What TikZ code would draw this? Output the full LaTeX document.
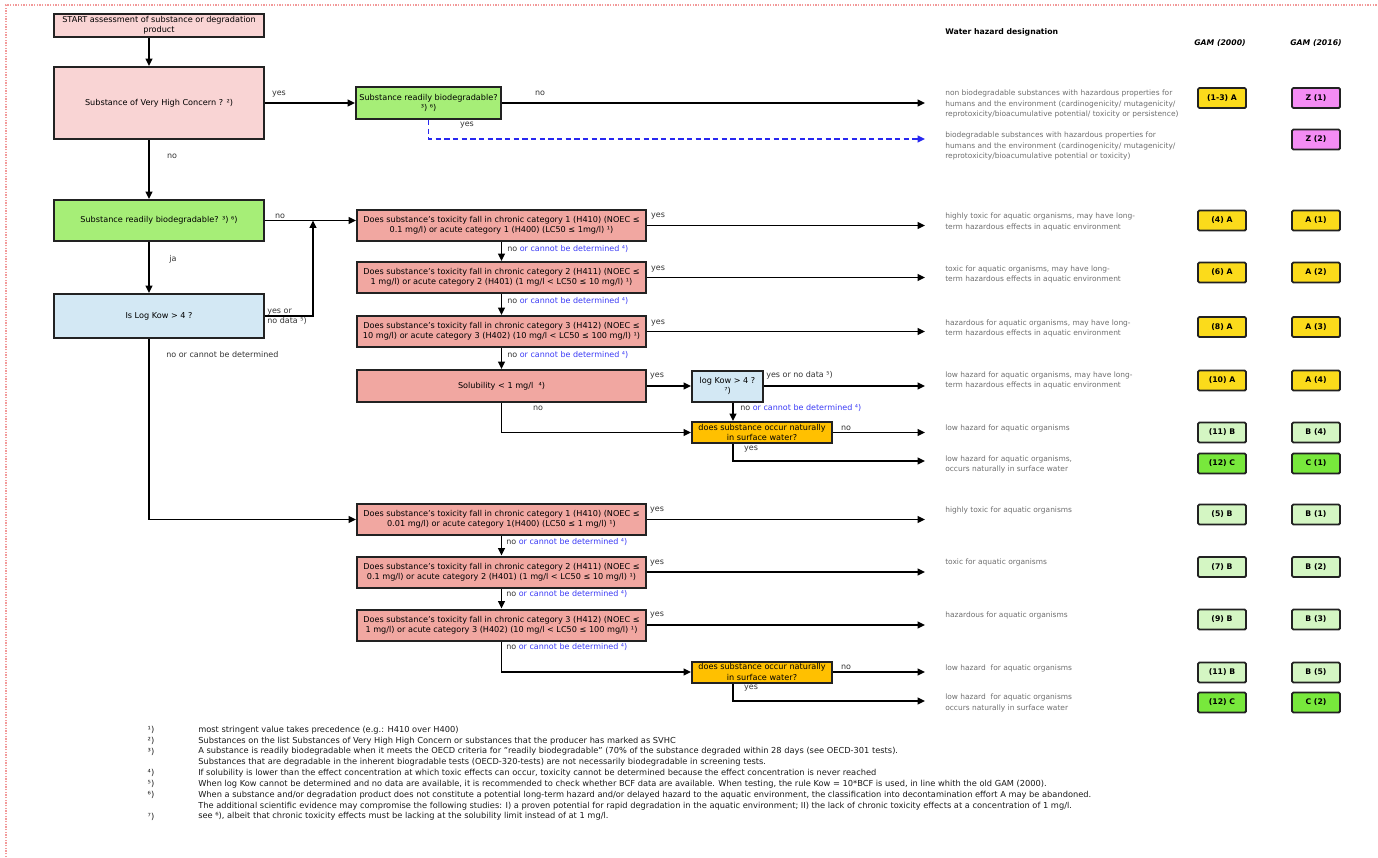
\documentclass[tikz,border=0pt]{standalone}
\usepackage{fontspec}
\setmainfont{DejaVu Sans}
\usetikzlibrary{arrows.meta}
\definecolor{pinkpale}{HTML}{F9D4D4}
\definecolor{greenq}{HTML}{A6EE77}
\definecolor{bluepale}{HTML}{D3E8F4}
\definecolor{salmon}{HTML}{F1A7A1}
\definecolor{orangeq}{HTML}{FFC000}
\definecolor{boxline}{HTML}{222222}
\definecolor{ybadge}{HTML}{FBDB1B}
\definecolor{pbadge}{HTML}{F48CF4}
\definecolor{lgbadge}{HTML}{D4F6C3}
\definecolor{ggbadge}{HTML}{78E83C}
\definecolor{bluetxt}{HTML}{3A3AF5}
\definecolor{descc}{HTML}{6E6E6E}
\definecolor{labelc}{HTML}{333333}
\definecolor{borderred}{HTML}{F29A9A}
\tikzset{
  box/.style={draw=boxline, line width=1.5pt, inner sep=0pt, align=center, font=\fontsize{6.1}{7.6}\selectfont, text=black},
  sz/.style 2 args={minimum width=#1*0.75pt, minimum height=#2*0.75pt},
  arr/.style={-{Triangle[length=5.5pt,width=5pt]}, line width=1.1pt, draw=black},
  lbl/.style={font=\fontsize{6}{7.5}\selectfont, text=labelc, inner sep=0pt},
  lbll/.style={lbl, anchor=west, align=left},
  desc/.style={anchor=west, align=left, font=\fontsize{5.6}{7.8}\selectfont, text=descc, inner sep=0pt},
  badge/.style={draw=boxline, line width=1.4pt, rounded corners=1pt, minimum width=36pt, minimum height=15pt, inner sep=0pt, font=\bfseries\fontsize{5.8}{6}\selectfont},
  fnote/.style={anchor=west, inner sep=0pt, font=\fontsize{6.2}{7}\selectfont, text=black!90},
  fmark/.style={inner sep=0pt, font=\fontsize{6.2}{7}\selectfont, text=black!90},
  hdr/.style={inner sep=0pt, font=\bfseries\fontsize{5.8}{7}\selectfont}
}
\begin{document}
\begin{tikzpicture}[x=0.75pt,y=-0.75pt]
\useasboundingbox (0,0) rectangle (1378,857);
\draw[borderred, line width=1pt, densely dotted] (6,857) -- (6,5) -- (1378,5);

% helper coordinates
\coordinate (spine) at (149,0);
\coordinate (spine2) at (733,0);
\coordinate (rcol) at (925,0);
\coordinate (j1) at (313,220.5);

% left column
\node[box, fill=pinkpale, sz={210}{23}] (start) at (159,25.5) {START assessment of substance or degradation\\product};
\node[box, fill=pinkpale, sz={210}{72}] (svhc) at (159,103) {Substance of Very High Concern ? ²)};
\node[box, fill=greenq, sz={145}{32}] (rb1) at (428.5,103) {Substance readily biodegradable?\\³) ⁶)};
\node[box, fill=greenq, sz={210}{41}] (rb2) at (159,220.5) {Substance readily biodegradable? ³) ⁶)};
\node[box, fill=bluepale, sz={210}{44}] (logkow) at (159,316) {Is Log Kow > 4 ?};

% toxicity boxes
\node[box, fill=salmon, sz={289}{31}] (tox1) at (501.5,225.5) {Does substance’s toxicity fall in chronic category 1 (H410) (NOEC ≤\\0.1 mg/l) or acute category 1 (H400) (LC50 ≤ 1mg/l) ¹)};
\node[box, fill=salmon, sz={289}{31}] (tox2) at (501.5,277.5) {Does substance’s toxicity fall in chronic category 2 (H411) (NOEC ≤\\1 mg/l) or acute category 2 (H401) (1 mg/l < LC50 ≤ 10 mg/l) ¹)};
\node[box, fill=salmon, sz={289}{31}] (tox3) at (501.5,331.5) {Does substance’s toxicity fall in chronic category 3 (H412) (NOEC ≤\\10 mg/l) or acute category 3 (H402) (10 mg/l < LC50 ≤ 100 mg/l) ¹)};
\node[box, fill=salmon, sz={289}{32}] (sol) at (501.5,386) {Solubility < 1 mg/l \ ⁴)};
\node[box, fill=bluepale, sz={71}{31}] (logkow2) at (727.5,386) {log Kow > 4 ?\\⁷)};
\node[box, fill=orangeq, sz={140}{21}] (nat1) at (762,432.5) {does substance occur naturally\\in surface water?};
\node[box, fill=salmon, sz={289}{31}] (tox4) at (501.5,519.5) {Does substance’s toxicity fall in chronic category 1 (H410) (NOEC ≤\\0.01 mg/l) or acute category 1(H400) (LC50 ≤ 1 mg/l) ¹)};
\node[box, fill=salmon, sz={289}{31}] (tox5) at (501.5,572) {Does substance’s toxicity fall in chronic category 2 (H411) (NOEC ≤\\0.1 mg/l) or acute category 2 (H401) (1 mg/l < LC50 ≤ 10 mg/l) ¹)};
\node[box, fill=salmon, sz={289}{31}] (tox6) at (501.5,625) {Does substance’s toxicity fall in chronic category 3 (H412) (NOEC ≤\\1 mg/l) or acute category 3 (H402) (10 mg/l < LC50 ≤ 100 mg/l) ¹)};
\node[box, fill=orangeq, sz={140}{21}] (nat2) at (762,672) {does substance occur naturally\\in surface water?};

\coordinate (e2) at (925,139);
\coordinate (e8) at (925,461);
\coordinate (e13) at (925,701);

% connectors
\draw[arr] (start.south -| spine) -- (svhc.north -| spine);
\draw[arr] (svhc.east) -- (rb1.west);
\draw[arr] (rb1.east) -- (rb1.east -| rcol);
\draw[arr, draw={rgb,255:red,40;green,40;blue,240}, dash pattern=on 4pt off 2.5pt] (rb1.south) |- (e2);
\draw[arr] (svhc.south -| spine) -- (rb2.north -| spine);
\draw[arr] (rb2.east) -- (rb2.east -| tox1.west);
\draw[arr] (rb2.south -| spine) -- (logkow.north -| spine);
\draw[arr] (logkow.east) -| (j1);
\draw[arr] (tox1.east) -- (tox1.east -| rcol);
\draw[arr] (tox2.east) -- (tox2.east -| rcol);
\draw[arr] (tox3.east) -- (tox3.east -| rcol);
\draw[arr] (tox1.south) -- (tox2.north);
\draw[arr] (tox2.south) -- (tox3.north);
\draw[arr] (tox3.south) -- (sol.north);
\draw[arr] (sol.east) -- (logkow2.west);
\draw[arr] (logkow2.east) -- (logkow2.east -| rcol);
\draw[arr] (logkow2.south -| spine2) -- (nat1.north -| spine2);
\draw[arr] (sol.south) |- (nat1.west);
\draw[arr] (nat1.east) -- (nat1.east -| rcol);
\draw[arr] (nat1.south -| spine2) |- (e8);
\draw[arr] (logkow.south -| spine) |- (tox4.west);
\draw[arr] (tox4.east) -- (tox4.east -| rcol);
\draw[arr] (tox5.east) -- (tox5.east -| rcol);
\draw[arr] (tox6.east) -- (tox6.east -| rcol);
\draw[arr] (tox4.south) -- (tox5.north);
\draw[arr] (tox5.south) -- (tox6.north);
\draw[arr] (tox6.south) |- (nat2.west);
\draw[arr] (nat2.east) -- (nat2.east -| rcol);
\draw[arr] (nat2.south -| spine2) |- (e13);

% connector labels
\node[lbl] (la1) at (279,94) {yes};
\node[lbl] (la2) at (172,156) {no};
\node[lbl] (la3) at (540,93) {no};
\node[lbl] (la4) at (467,125) {yes};
\node[lbl] (la5) at (280,216) {no};
\node[lbl] (la6) at (173,259) {ja};
\node[lbll] (la7) at (267,317) {yes or\\no data ⁵)};
\node[lbll] (la8) at (166,355) {no or cannot be determined};
\node[lbl] (ly1) at (658,216) {yes};
\node[lbl] (ly2) at (658,269) {yes};
\node[lbl] (ly3) at (658,323) {yes};
\node[lbl] (ly4) at (657,376) {yes};
\node[lbl] (ly5) at (657,510) {yes};
\node[lbl] (ly6) at (657,563) {yes};
\node[lbl] (ly7) at (657,615) {yes};
\node[lbll] (ln1) at (507,249) {no \textcolor{bluetxt}{or cannot be determined ⁴)}};
\node[lbll] (ln2) at (507,301) {no \textcolor{bluetxt}{or cannot be determined ⁴)}};
\node[lbll] (ln3) at (507,355) {no \textcolor{bluetxt}{or cannot be determined ⁴)}};
\node[lbll] (ln4) at (506,542) {no \textcolor{bluetxt}{or cannot be determined ⁴)}};
\node[lbll] (ln5) at (506,594) {no \textcolor{bluetxt}{or cannot be determined ⁴)}};
\node[lbll] (ln6) at (506,647) {no \textcolor{bluetxt}{or cannot be determined ⁴)}};
\node[lbl] (ls1) at (538,408) {no};
\node[lbll] (ls2) at (766,375.5) {yes or no data ⁵)};
\node[lbll] (ls3) at (740,408) {no \textcolor{bluetxt}{or cannot be determined ⁴)}};
\node[lbl] (ls4) at (846,428) {no};
\node[lbl] (ls5) at (751,449) {yes};
\node[lbl] (ls6) at (846,667.5) {no};
\node[lbl] (ls7) at (751,688) {yes};

% headers
\node[hdr, anchor=west] (h1) at (945,32) {Water hazard designation};
\node[hdr] (h2) at (1220,43.5) {\itshape GAM (2000)};
\node[hdr] (h3) at (1316,43.5) {\itshape GAM (2016)};

% descriptions
\node[desc] (d1) at (945,104) {non biodegradable substances with hazardous properties for\\humans and the environment (cardinogenicity/ mutagenicity/\\reprotoxicity/bioacumulative potential/ toxicity or persistence)};
\node[desc] (d2) at (945,146.3) {biodegradable substances with hazardous properties for\\humans and the environment (cardinogenicity/ mutagenicity/\\reprotoxicity/bioacumulative potential or toxicity)};
\node[desc] (d3) at (945,222) {highly toxic for aquatic organisms, may have long-\\term hazardous effects in aquatic environment};
\node[desc] (d4) at (945,274.7) {toxic for aquatic organisms, may have long-\\term hazardous effects in aquatic environment};
\node[desc] (d5) at (945,328.3) {hazardous for aquatic organisms, may have long-\\term hazardous effects in aquatic environment};
\node[desc] (d6) at (945,380.3) {low hazard for aquatic organisms, may have long-\\term hazardous effects in aquatic environment};
\node[desc] (d7) at (945,428.7) {low hazard for aquatic organisms};
\node[desc] (d8) at (945,464.3) {low hazard for aquatic organisms,\\occurs naturally in surface water};
\node[desc] (d9) at (945,510) {highly toxic for aquatic organisms};
\node[desc] (d10) at (945,562.7) {toxic for aquatic organisms};
\node[desc] (d11) at (945,615) {hazardous for aquatic organisms};
\node[desc] (d12) at (945,668) {low hazard \ for aquatic organisms};
\node[desc] (d13) at (945,703) {low hazard \ for aquatic organisms\\occurs naturally in surface water};

% badges
\node[badge, fill=ybadge] (b1a) at (1222,98) {(1-3) A};
\node[badge, fill=pbadge] (b1b) at (1316,98) {Z (1)};
\node[badge, fill=pbadge] (b2b) at (1316,139.5) {Z (2)};
\node[badge, fill=ybadge] (b3a) at (1222,220.5) {(4) A};
\node[badge, fill=ybadge] (b3b) at (1316,220.5) {A (1)};
\node[badge, fill=ybadge] (b4a) at (1222,272.5) {(6) A};
\node[badge, fill=ybadge] (b4b) at (1316,272.5) {A (2)};
\node[badge, fill=ybadge] (b5a) at (1222,327) {(8) A};
\node[badge, fill=ybadge] (b5b) at (1316,327) {A (3)};
\node[badge, fill=ybadge] (b6a) at (1222,380.5) {(10) A};
\node[badge, fill=ybadge] (b6b) at (1316,380.5) {A (4)};
\node[badge, fill=lgbadge] (b7a) at (1222,432.5) {(11) B};
\node[badge, fill=lgbadge] (b7b) at (1316,432.5) {B (4)};
\node[badge, fill=ggbadge] (b8a) at (1222,463.5) {(12) C};
\node[badge, fill=ggbadge] (b8b) at (1316,463.5) {C (1)};
\node[badge, fill=lgbadge] (b9a) at (1222,514.5) {(5) B};
\node[badge, fill=lgbadge] (b9b) at (1316,514.5) {B (1)};
\node[badge, fill=lgbadge] (b10a) at (1222,567) {(7) B};
\node[badge, fill=lgbadge] (b10b) at (1316,567) {B (2)};
\node[badge, fill=lgbadge] (b11a) at (1222,619.5) {(9) B};
\node[badge, fill=lgbadge] (b11b) at (1316,619.5) {B (3)};
\node[badge, fill=lgbadge] (b12a) at (1222,672.5) {(11) B};
\node[badge, fill=lgbadge] (b12b) at (1316,672.5) {B (5)};
\node[badge, fill=ggbadge] (b13a) at (1222,702.5) {(12) C};
\node[badge, fill=ggbadge] (b13b) at (1316,702.5) {C (2)};

% footnotes
\node[fmark] (m1) at (151,730) {¹)};
\node[fmark] (m2) at (151,741) {²)};
\node[fmark] (m3) at (151,751.7) {³)};
\node[fmark] (m4) at (151,773.3) {⁴)};
\node[fmark] (m5) at (151,784.3) {⁵)};
\node[fmark] (m6) at (151,795) {⁶)};
\node[fmark] (m7) at (151,816.7) {⁷)};
\node[fnote] (f1) at (198,730) {most stringent value takes precedence (e.g.: H410 over H400)};
\node[fnote] (f2) at (198,741) {Substances on the list Substances of Very High High Concern or substances that the producer has marked as SVHC};
\node[fnote] (f3) at (198,751.7) {A substance is readily biodegradable when it meets the OECD criteria for "readily biodegradable" (70\% of the substance degraded within 28 days (see OECD-301 tests).};
\node[fnote] (f4) at (198,762.3) {Substances that are degradable in the inherent biogradable tests (OECD-320-tests) are not necessarily biodegradable in screening tests.};
\node[fnote] (f5) at (198,773.3) {If solubility is lower than the effect concentration at which toxic effects can occur, toxicity cannot be determined because the effect concentration is never reached};
\node[fnote] (f6) at (198,784.3) {When log Kow cannot be determined and no data are available, it is recommended to check whether BCF data are available. When testing, the rule Kow = 10*BCF is used, in line whith the old GAM (2000).};
\node[fnote] (f7) at (198,795) {When a substance and/or degradation product does not constitute a potential long-term hazard and/or delayed hazard to the aquatic environment, the classification into decontamination effort A may be abandoned.};
\node[fnote] (f8) at (198,806) {The additional scientific evidence may compromise the following studies: I) a proven potential for rapid degradation in the aquatic environment; II) the lack of chronic toxicity effects at a concentration of 1 mg/l.};
\node[fnote] (f9) at (198,816.7) {see ⁶), albeit that chronic toxicity effects must be lacking at the solubility limit instead of at 1 mg/l.};
\end{tikzpicture}
\end{document}
